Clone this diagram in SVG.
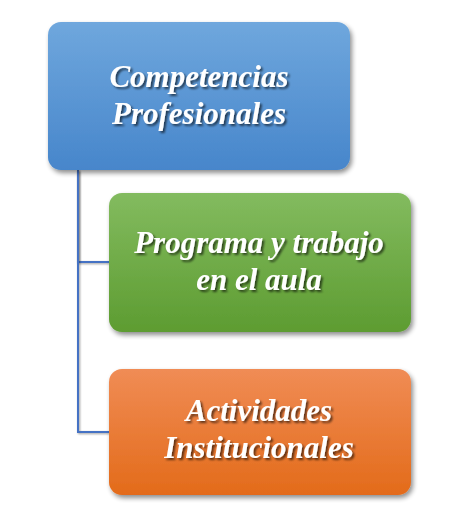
<svg xmlns="http://www.w3.org/2000/svg" width="465" height="515" viewBox="0 0 465 515">
<style>
.lbl{font-family:"Liberation Serif","DejaVu Serif",serif;font-style:italic;font-weight:bold;font-size:31px;fill:#ffffff;text-anchor:middle;filter:url(#ts)}
.conn{fill:none;stroke:#4472C4;stroke-width:2;filter:url(#ls)}
.box{filter:url(#bs)}
</style>
<defs>
<linearGradient id="gBlue" x1="0" y1="0" x2="0" y2="1"><stop offset="0" stop-color="#6FA7DD"/><stop offset="1" stop-color="#4786CB"/></linearGradient>
<linearGradient id="gGreen" x1="0" y1="0" x2="0" y2="1"><stop offset="0" stop-color="#83BB5F"/><stop offset="1" stop-color="#5D9C31"/></linearGradient>
<linearGradient id="gOrange" x1="0" y1="0" x2="0" y2="1"><stop offset="0" stop-color="#F08C55"/><stop offset="1" stop-color="#E36B1A"/></linearGradient>
<filter id="bs" x="-10%" y="-10%" width="125%" height="130%"><feGaussianBlur in="SourceAlpha" stdDeviation="2.5"/><feOffset dx="2" dy="3" result="b"/><feComponentTransfer><feFuncA type="linear" slope="0.45"/></feComponentTransfer><feMerge><feMergeNode/><feMergeNode in="SourceGraphic"/></feMerge></filter>
<filter id="ts" x="-10%" y="-30%" width="120%" height="160%"><feGaussianBlur in="SourceAlpha" stdDeviation="1"/><feOffset dx="1.5" dy="2"/><feComponentTransfer><feFuncA type="linear" slope="0.6"/></feComponentTransfer><feMerge><feMergeNode/><feMergeNode in="SourceGraphic"/></feMerge></filter>
<filter id="ls" x="-50%" y="-10%" width="300%" height="120%"><feGaussianBlur in="SourceAlpha" stdDeviation="1"/><feOffset dx="1" dy="1"/><feComponentTransfer><feFuncA type="linear" slope="0.4"/></feComponentTransfer><feMerge><feMergeNode/><feMergeNode in="SourceGraphic"/></feMerge></filter>
</defs>
<g id="connectors">
<path class="conn" d="M78,170 V262 H109"/>
<path class="conn" d="M78,170 V432 H109"/>
</g>
<g id="node-competencias">
<rect class="box" x="48" y="22" width="302" height="148" rx="13" fill="url(#gBlue)"/>
<text class="lbl" x="199" y="87">Competencias</text>
<text class="lbl" x="199" y="124">Profesionales</text>
</g>
<g id="node-programa">
<rect class="box" x="109" y="193" width="302" height="139" rx="13" fill="url(#gGreen)"/>
<text class="lbl" x="259" y="253">Programa y trabajo</text>
<text class="lbl" x="259" y="290">en el aula</text>
</g>
<g id="node-actividades">
<rect class="box" x="109" y="369" width="302" height="126" rx="13" fill="url(#gOrange)"/>
<text class="lbl" x="259" y="421">Actividades</text>
<text class="lbl" x="259" y="458">Institucionales</text>
</g>
</svg>
